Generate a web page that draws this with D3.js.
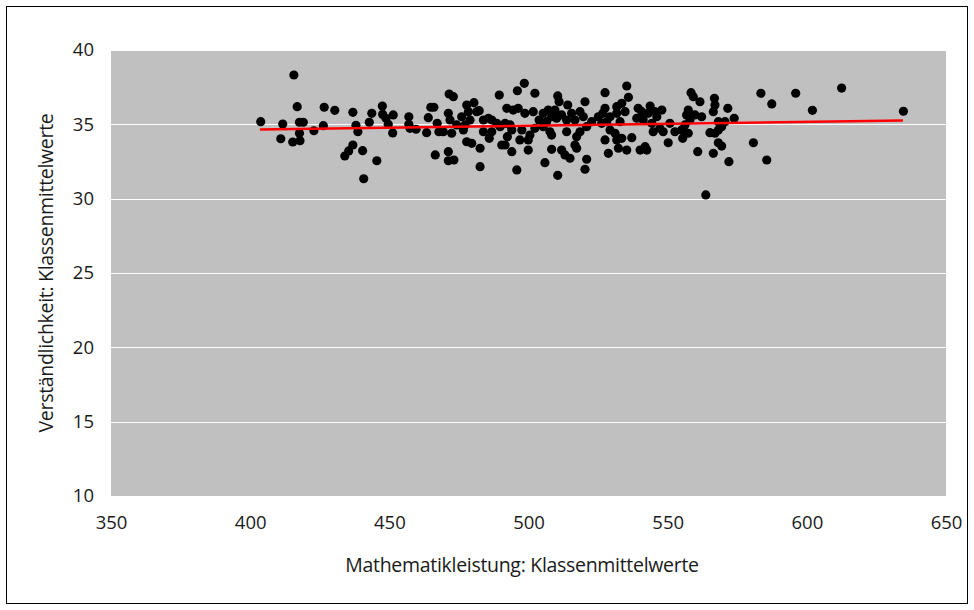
<!DOCTYPE html>
<html>
<head>
<meta charset="utf-8">
<script src="https://cdn.jsdelivr.net/npm/d3@7"></script>
<style>
  body { margin: 0; background: #fff; }
  text { font-family: "Open Sans", sans-serif; fill: #1a1a1a; }
</style>
</head>
<body>
<div id="chart"></div>
<script>
// class means: maths score (x) vs understandability (y)
var mathScores = [
  403.8,415.7,411.7,411.0,416.9,417.7,419.1,417.7,415.3,417.9,422.9,426.3,426.6,430.4,436.9,438.0,438.7,436.9,435.4,434.0,440.4,440.8,445.5,442.8,443.7,447.5,447.6,448.8,449.6,451.4,451.2,457.0,457.0,457.4,459.6,463.4,464.0,464.9,466.0,466.5,467.2,467.8,
  471.5,473.0,469.4,471.2,471.8,472.4,474.2,476.0,477.8,478.4,480.4,481.4,482.3,479.0,477.2,476.6,477.8,479.6,482.6,483.8,485.6,486.8,483.8,485.9,486.8,488.6,489.8,491.6,489.5,492.2,494.5,496.0,496.3,490.4,491.6,492.4,494.0,495.8,482.6,471.2,471.2,473.2,494.0,493.4,
  498.5,502.3,510.5,511.0,514.1,520.3,498.7,501.7,503.8,505.3,507.1,508.3,506.5,509.5,510.1,511.9,513.7,515.5,516.7,518.5,519.7,522.7,525.1,497.6,496.9,500.5,499.9,502.3,505.3,507.7,508.3,513.7,517.3,518.5,520.9,516.7,517.3,499.9,508.3,511.9,513.1,514.9,520.9,505.9,520.3,510.5,
  535.3,527.5,535.9,533.5,531.7,527.5,526.7,529.3,531.7,534.7,532.9,528.1,526.3,539.4,540.7,543.7,543.0,545.4,546.1,547.9,538.9,541.2,544.3,544.8,547.2,548.4,550.8,552.6,555.0,556.2,555.4,550.2,527.5,529.3,531.1,531.7,533.5,537.1,528.7,532.3,535.3,540.1,542.5,541.9,
  558.4,559.2,561.6,566.8,567.0,566.4,571.6,583.5,587.4,557.4,556.8,559.8,562.2,558.0,573.9,568.2,570.6,569.4,568.2,565.2,567.0,557.4,568.2,569.4,560.8,566.4,572.0,580.8,585.6,563.7,
  596.0,602.0,612.5,634.7
];
var understanding = [
  35.18,38.32,35.02,34.03,36.19,35.14,35.14,34.40,33.81,33.90,34.57,34.91,36.15,35.94,35.81,34.93,34.50,33.61,33.21,32.87,33.23,31.34,32.55,35.14,35.74,36.23,35.67,35.41,35.00,35.63,34.42,35.51,35.00,34.73,34.67,34.44,35.45,36.15,36.15,32.94,35.07,34.50,
  37.04,36.86,34.50,35.74,35.29,34.40,34.96,35.51,36.30,35.85,36.46,35.85,35.92,35.29,34.96,34.62,33.83,33.72,33.39,35.29,35.41,35.29,34.50,34.06,34.50,35.07,34.84,35.07,36.97,36.08,35.96,37.26,36.08,33.61,33.61,34.17,33.16,31.93,32.15,33.16,32.55,32.60,34.62,34.96,
  37.76,37.09,36.91,36.52,36.30,36.52,35.74,35.85,35.29,35.74,35.96,35.51,35.18,35.96,35.41,35.63,35.29,35.74,35.29,35.85,35.51,35.18,35.51,34.62,33.95,34.28,33.95,34.73,34.84,34.50,34.28,34.50,34.17,34.50,34.84,33.61,33.39,33.27,33.32,33.27,32.94,32.72,32.65,32.42,31.98,31.57,
  37.58,37.13,36.82,36.41,36.19,36.08,35.74,35.51,35.74,35.85,35.18,35.18,35.07,36.08,35.85,36.23,35.74,35.85,35.51,35.96,35.41,35.29,35.07,34.50,34.73,34.50,35.07,34.50,34.62,34.96,34.06,33.76,33.95,34.62,34.40,33.95,34.06,34.10,33.05,33.39,33.27,33.27,33.27,33.50,
  37.13,36.86,36.52,36.75,36.30,35.85,36.08,37.09,36.37,35.96,35.63,35.63,35.51,35.29,35.41,35.18,35.18,34.84,34.62,34.44,34.40,34.40,33.76,33.54,33.16,33.05,32.49,33.76,32.60,30.25,
  37.09,35.94,37.44,35.88
];
// linear trend line end points
var trendX = [403.5, 634.5];
var trendY = [34.65, 35.25];

var xTicks = [350, 400, 450, 500, 550, 600, 650];
var yTicks = [10, 15, 20, 25, 30, 35, 40];
var xTitle = "Mathematikleistung: Klassenmittelwerte";
var yTitle = "Verständlichkeit: Klassenmittelwerte";

var W = 974, H = 610;
var plot = {left: 111, right: 946, top: 50, bottom: 496};

var svg = d3.select("#chart").append("svg")
  .attr("width", W)
  .attr("height", H);

// outer frame
svg.append("rect")
  .attr("x", 6.5).attr("y", 6.5)
  .attr("width", 961).attr("height", 597)
  .attr("fill", "#fff")
  .attr("stroke", "#000")
  .attr("stroke-width", 1);

var x = d3.scaleLinear().domain([350, 650]).range([plot.left, plot.right]);
var y = d3.scaleLinear().domain([10, 40]).range([plot.bottom, plot.top]);

// grey plot area
svg.append("rect")
  .attr("x", plot.left).attr("y", plot.top)
  .attr("width", plot.right - plot.left)
  .attr("height", plot.bottom - plot.top)
  .attr("fill", "#c0c0c0");

// gridlines
svg.append("g").selectAll("line")
  .data(yTicks)
  .enter().append("line")
    .attr("x1", plot.left).attr("x2", plot.right)
    .attr("y1", function(d) { return Math.round(y(d)) + 0.5; })
    .attr("y2", function(d) { return Math.round(y(d)) + 0.5; })
    .style("stroke", "#fff")
    .style("stroke-width", 1);

// axes (labels only, no lines or tick marks)
var xAxis = svg.append("g")
  .attr("transform", "translate(0," + (plot.bottom + 12) + ")")
  .call(d3.axisBottom(x).tickValues(xTicks).tickSize(0).tickPadding(8));
var yAxis = svg.append("g")
  .attr("transform", "translate(" + (plot.left - 17) + ",0)")
  .call(d3.axisLeft(y).tickValues(yTicks).tickSize(0).tickPadding(0));
[xAxis, yAxis].forEach(function(a) {
  a.select(".domain").remove();
  a.selectAll("text")
    .style("font-family", "'Open Sans', sans-serif")
    .style("font-size", "18.5px")
    .attr("fill", "#1a1a1a");
});

// dots
svg.append("g")
  .selectAll("circle")
  .data(mathScores)
  .enter().append("circle")
    .attr("cx", function(d) { return x(d); })
    .attr("cy", function(d, i) { return y(understanding[i]); })
    .attr("r", 4.6)
    .style("fill", "#000");

// trend line
svg.append("line")
  .attr("x1", x(trendX[0])).attr("y1", y(trendY[0]))
  .attr("x2", x(trendX[1])).attr("y2", y(trendY[1]))
  .style("stroke", "#ff0000")
  .style("stroke-width", 2.5);

// axis titles
svg.append("text")
  .attr("x", 522).attr("y", 572)
  .attr("text-anchor", "middle")
  .style("font-size", "19.5px")
  .style("letter-spacing", "-0.3px")
  .text(xTitle);

svg.append("text")
  .attr("transform", "translate(53," + ((plot.top + plot.bottom) / 2) + ") rotate(-90)")
  .attr("text-anchor", "middle")
  .style("font-size", "19.5px")
  .style("letter-spacing", "-0.3px")
  .text(yTitle);
</script>
</body>
</html>
